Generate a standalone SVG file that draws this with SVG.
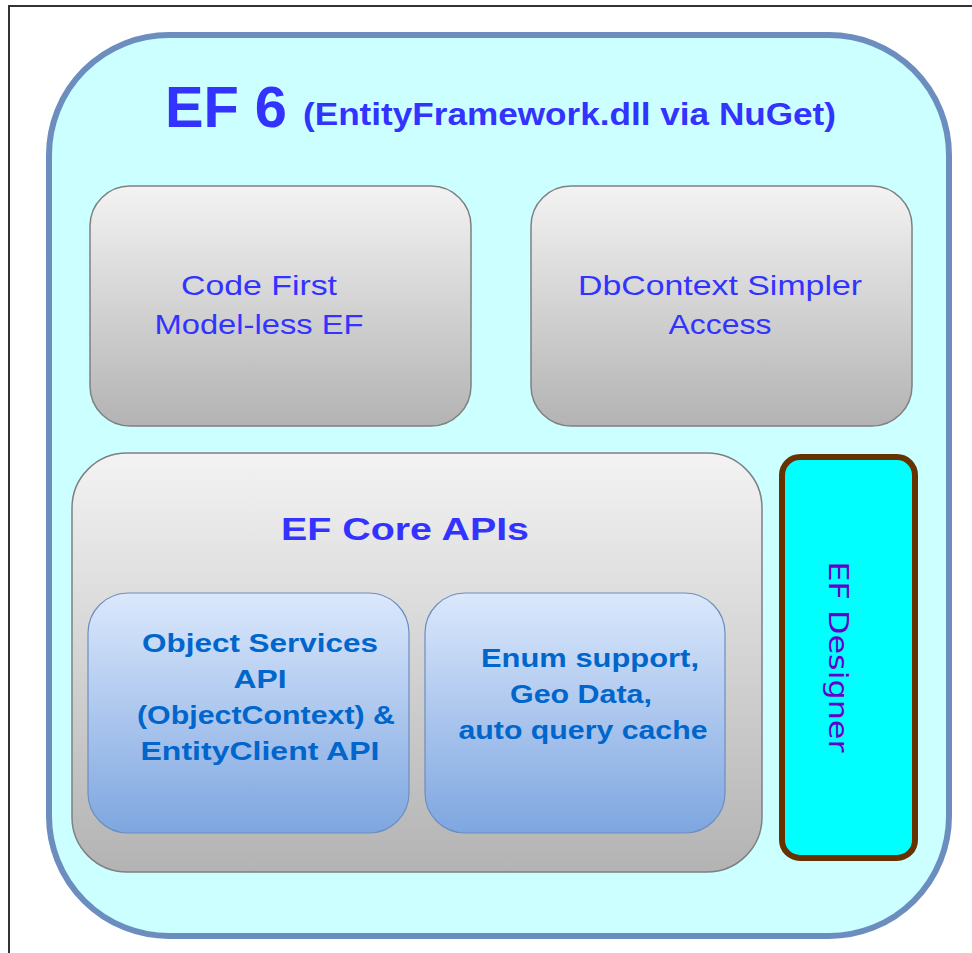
<svg xmlns="http://www.w3.org/2000/svg" width="972" height="953" viewBox="0 0 972 953">
<defs>
<linearGradient id="gray" x1="0" y1="0" x2="0" y2="1">
<stop offset="0" stop-color="#f3f3f3"/>
<stop offset="1" stop-color="#b3b3b3"/>
</linearGradient>
<linearGradient id="blue" x1="0" y1="0" x2="0" y2="1">
<stop offset="0" stop-color="#dbe8fc"/>
<stop offset="1" stop-color="#7ea6e0"/>
</linearGradient>
<style>
.cs{font-family:"Comic Sans MS","Liberation Sans",sans-serif;}
.t1{fill:#3333ff;}
.t2{fill:#0066cc;font-weight:bold;font-size:26px;}
.gbox{fill:url(#gray);stroke:#808080;stroke-width:1.5;}
.bbox{fill:url(#blue);stroke:#6c8ebf;stroke-width:1.2;}
</style>
</defs>
<rect width="972" height="953" fill="#ffffff"/>
<path d="M9 953 V6 H972" fill="none" stroke="#333333" stroke-width="2"/>
<g id="ef6">
<rect x="49" y="35" width="900" height="901" rx="120" ry="120" fill="#ccffff" stroke="#6c8ebf" stroke-width="6"/>
<text class="cs t1" x="165" y="127" font-size="58" font-weight="bold" textLength="122" lengthAdjust="spacingAndGlyphs">EF 6</text>
<text class="cs t1" x="303" y="125" font-size="31" font-weight="bold" textLength="533" lengthAdjust="spacingAndGlyphs">(EntityFramework.dll via NuGet)</text>
</g>
<g id="codefirst">
<rect class="gbox" x="90" y="186" width="381" height="240" rx="40" ry="40"/>
<text class="cs t1" font-size="28" text-anchor="middle"><tspan x="259" y="295" textLength="156" lengthAdjust="spacingAndGlyphs">Code First</tspan><tspan x="259" y="334" textLength="209" lengthAdjust="spacingAndGlyphs">Model-less EF</tspan></text>
</g>
<g id="dbcontext">
<rect class="gbox" x="531" y="186" width="381" height="240" rx="40" ry="40"/>
<text class="cs t1" font-size="28" text-anchor="middle"><tspan x="720" y="295" textLength="284" lengthAdjust="spacingAndGlyphs">DbContext Simpler</tspan><tspan x="720" y="334" textLength="103" lengthAdjust="spacingAndGlyphs">Access</tspan></text>
</g>
<g id="efcore">
<rect class="gbox" x="72" y="453" width="690" height="419" rx="55" ry="55"/>
<text class="cs t1" x="405" y="540" font-size="32" font-weight="bold" text-anchor="middle" textLength="248" lengthAdjust="spacingAndGlyphs">EF Core APIs</text>
</g>
<g id="objectservices">
<rect class="bbox" x="88" y="593" width="321" height="240" rx="40" ry="40"/>
<text class="cs t2" text-anchor="middle"><tspan x="260" y="652" textLength="236" lengthAdjust="spacingAndGlyphs">Object Services</tspan><tspan x="260" y="688" textLength="53" lengthAdjust="spacingAndGlyphs">API</tspan><tspan x="266" y="724" textLength="258" lengthAdjust="spacingAndGlyphs">(ObjectContext) &amp;</tspan><tspan x="260" y="760" textLength="239" lengthAdjust="spacingAndGlyphs">EntityClient API</tspan></text>
</g>
<g id="enum">
<rect class="bbox" x="425" y="593" width="300" height="240" rx="40" ry="40"/>
<text class="cs t2" text-anchor="middle"><tspan x="590" y="667" textLength="218" lengthAdjust="spacingAndGlyphs">Enum support,</tspan><tspan x="581" y="703" textLength="142" lengthAdjust="spacingAndGlyphs">Geo Data,</tspan><tspan x="583" y="739" textLength="249" lengthAdjust="spacingAndGlyphs">auto query cache</tspan></text>
</g>
<g id="efdesigner">
<rect x="782" y="457" width="133" height="401" rx="18" ry="18" fill="#00ffff" stroke="#663300" stroke-width="6"/>
<text x="657" y="-829" transform="rotate(90)" font-family="DejaVu Sans,Verdana,sans-serif" font-size="26" fill="#6600cc" text-anchor="middle" textLength="191" lengthAdjust="spacingAndGlyphs">EF Designer</text>
</g>
<g id="connectors"/>
</svg>
